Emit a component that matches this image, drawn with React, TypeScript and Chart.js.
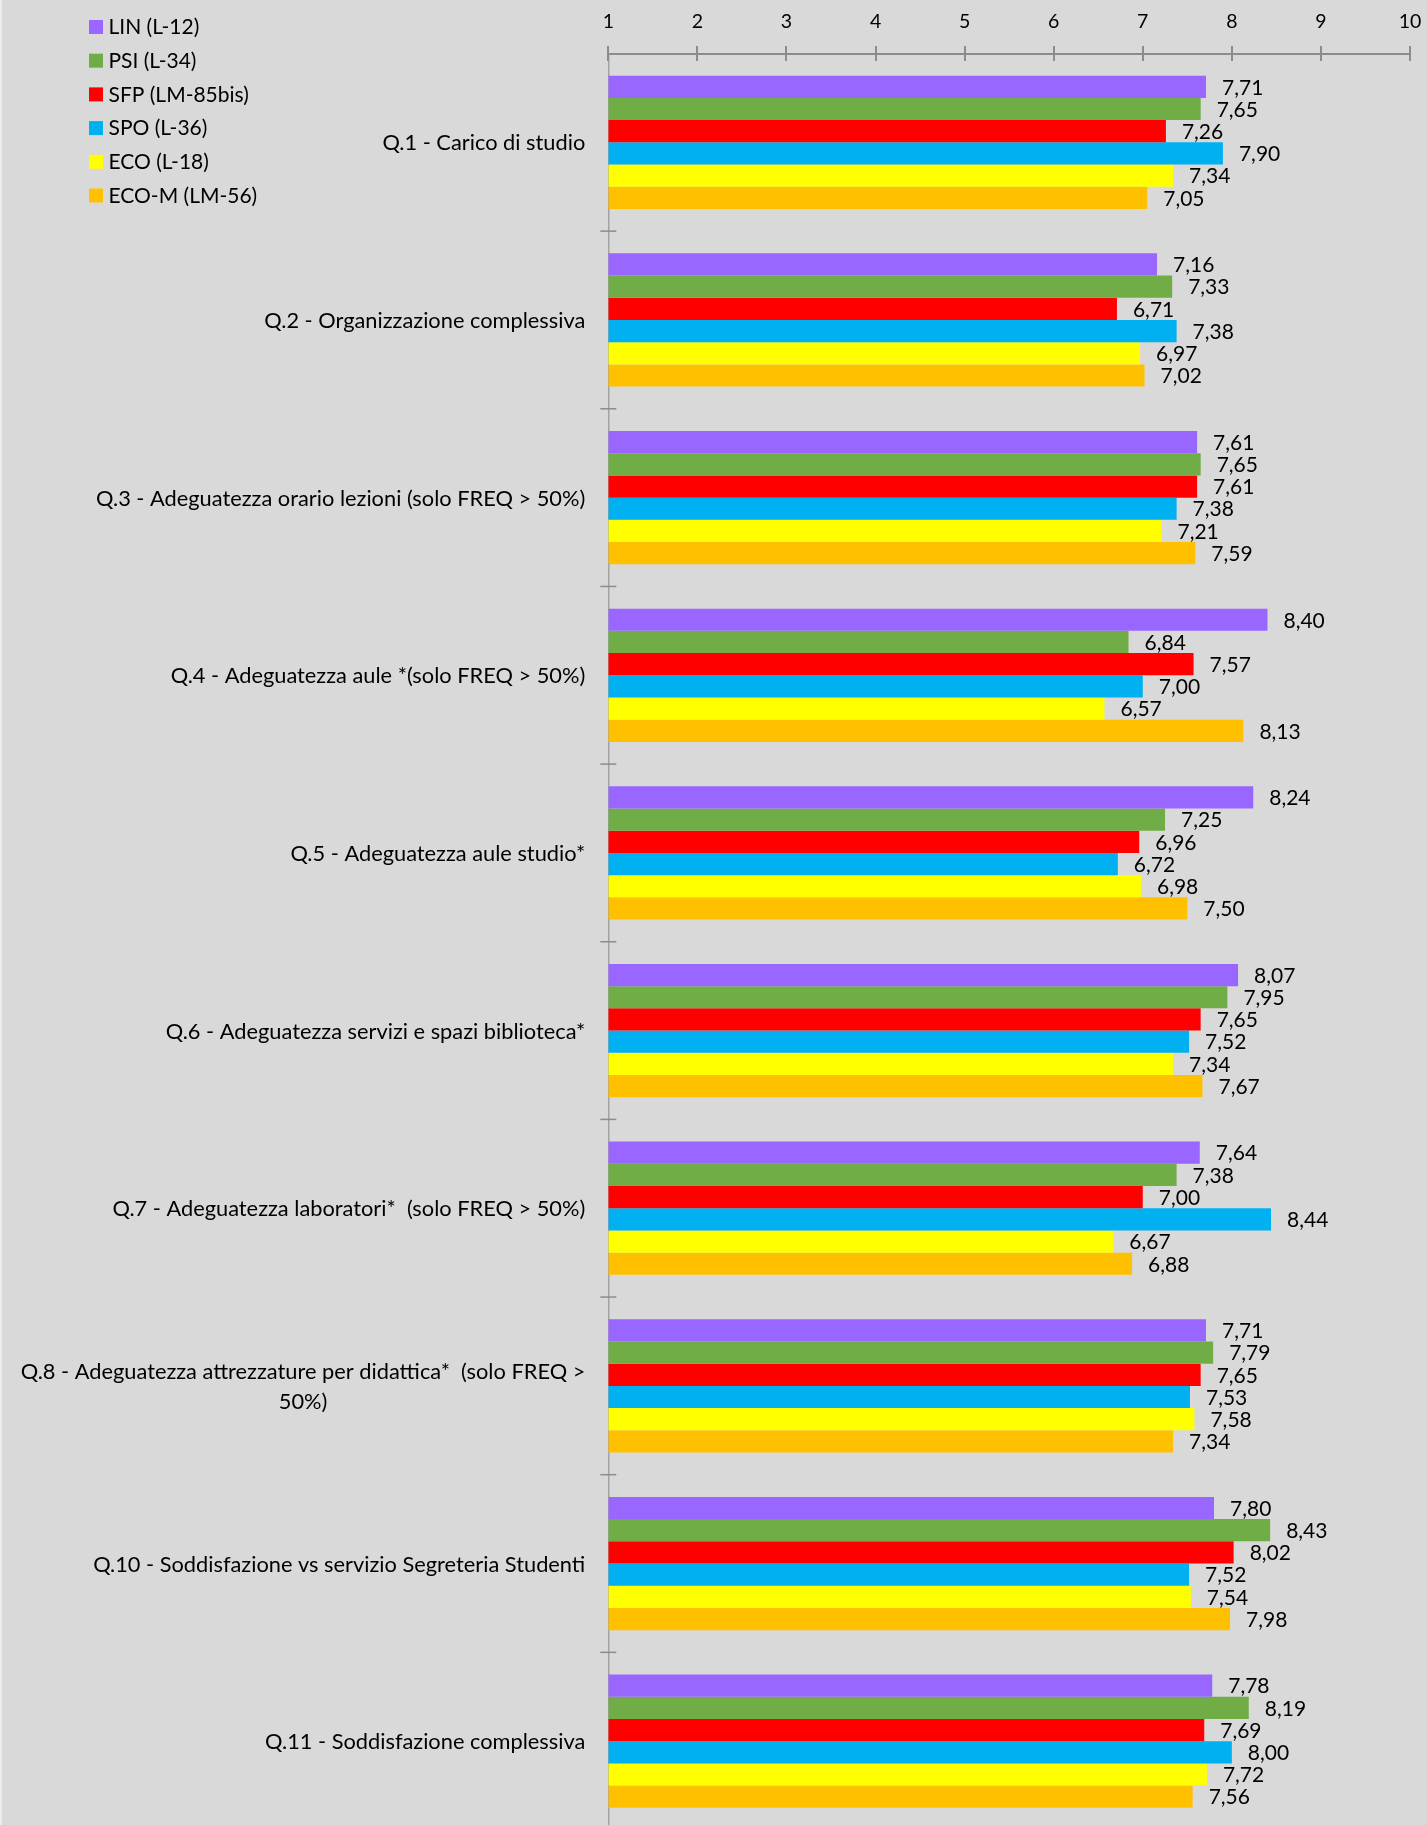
import { useEffect, useRef } from 'react';
import { Chart, registerables } from 'chart.js';

Chart.register(...registerables);

const categories: (string | string[])[] = [
  'Q.1 - Carico di studio',
  'Q.2 - Organizzazione complessiva',
  'Q.3 - Adeguatezza orario lezioni (solo FREQ > 50%)',
  'Q.4 - Adeguatezza aule *(solo FREQ > 50%)',
  'Q.5 - Adeguatezza aule studio*',
  'Q.6 - Adeguatezza servizi e spazi biblioteca*',
  'Q.7 - Adeguatezza laboratori*  (solo FREQ > 50%)',
  ['Q.8 - Adeguatezza attrezzature per didattica*  (solo FREQ >', '50%)'],
  'Q.10 - Soddisfazione vs servizio Segreteria Studenti',
  'Q.11 - Soddisfazione complessiva',
];

const seriesNames = ['LIN (L-12)', 'PSI (L-34)', 'SFP (LM-85bis)', 'SPO (L-36)', 'ECO (L-18)', 'ECO-M (LM-56)'];
const seriesColors = ['#9966FF', '#70AD47', '#FF0000', '#00B0F0', '#FFFF00', '#FFC000'];

const LIN = [7.71, 7.16, 7.61, 8.40, 8.24, 8.07, 7.64, 7.71, 7.80, 7.78];
const PSI = [7.65, 7.33, 7.65, 6.84, 7.25, 7.95, 7.38, 7.79, 8.43, 8.19];
const SFP = [7.26, 6.71, 7.61, 7.57, 6.96, 7.65, 7.00, 7.65, 8.02, 7.69];
const SPO = [7.90, 7.38, 7.38, 7.00, 6.72, 7.52, 8.44, 7.53, 7.52, 8.00];
const ECO = [7.34, 6.97, 7.21, 6.57, 6.98, 7.34, 6.67, 7.58, 7.54, 7.72];
const ECOM = [7.05, 7.02, 7.59, 8.13, 7.50, 7.67, 6.88, 7.34, 7.98, 7.56];

const seriesValues = [LIN, PSI, SFP, SPO, ECO, ECOM];

const xMin = 1;
const xMax = 10;

const FONT = 'Lato, "Open Sans", sans-serif';
const FS_TICK = 19.5;
const FS_DATA = 21;
const FS_CAT = 21.8;
const FS_LEG = 21;

const bgPlugin = {
  id: 'bg',
  beforeDraw(chart: any) {
    const ctx = chart.ctx;
    ctx.save();
    ctx.fillStyle = '#d9d9d9';
    ctx.fillRect(0, 0, chart.width, chart.height);
    ctx.fillStyle = '#ebebeb';
    ctx.fillRect(0, 0, 2, chart.height);
    ctx.restore();
  },
};

const decorPlugin = {
  id: 'decor',
  afterDatasetsDraw(chart: any) {
    const ctx = chart.ctx;
    const xs = chart.scales.x;
    const ys = chart.scales.y;
    const area = chart.chartArea;
    ctx.save();
    // x tick marks crossing the axis line
    ctx.strokeStyle = '#8c8c8c';
    ctx.lineWidth = 2;
    for (let v = xMin; v <= xMax; v++) {
      const px = Math.round(xs.getPixelForValue(v));
      ctx.beginPath();
      ctx.moveTo(px, area.top - 7.5);
      ctx.lineTo(px, area.top + 7.5);
      ctx.stroke();
    }
    // y tick marks at category boundaries
    ctx.lineWidth = 1.5;
    for (let i = 1; i < categories.length; i++) {
      const py = (ys.getPixelForValue(i - 1) + ys.getPixelForValue(i)) / 2;
      ctx.beginPath();
      ctx.moveTo(area.left - 8, py);
      ctx.lineTo(area.left + 8, py);
      ctx.stroke();
    }
    // data labels
    ctx.font = `${FS_DATA}px ${FONT}`;
    ctx.fillStyle = '#000';
    ctx.textAlign = 'left';
    ctx.textBaseline = 'middle';
    chart.data.datasets.forEach((ds: any, di: number) => {
      const meta = chart.getDatasetMeta(di);
      meta.data.forEach((el: any, i: number) => {
        const v = ds.data[i] as number;
        ctx.fillText(v.toFixed(2).replace('.', ','), el.x + 16, el.y + 1);
      });
    });
    // category labels
    ctx.font = `${FS_CAT}px ${FONT}`;
    const right = area.left - 23;
    categories.forEach((lab, i) => {
      const lines = Array.isArray(lab) ? lab : [lab];
      const w = Math.max(...lines.map((l) => ctx.measureText(l).width));
      const cy = ys.getPixelForValue(i);
      lines.forEach((l, j) => {
        ctx.textAlign = 'center';
        ctx.fillText(l, right - w / 2, cy + (j - (lines.length - 1) / 2) * 30 + 1);
      });
    });
    // legend
    ctx.font = `${FS_LEG}px ${FONT}`;
    ctx.textAlign = 'left';
    chart.data.datasets.forEach((ds: any, di: number) => {
      const y0 = 20 + di * 33.7;
      ctx.fillStyle = ds.backgroundColor;
      ctx.fillRect(89, y0, 14, 14);
      ctx.fillStyle = '#000';
      ctx.fillText(ds.label, 108.5, y0 + 7.5);
    });
    ctx.restore();
  },
};

export default function App() {
  const ref = useRef<HTMLCanvasElement | null>(null);
  useEffect(() => {
    document.body.style.margin = '0';
    document.body.style.overflow = 'hidden';
    const canvas = ref.current;
    if (!canvas) return;
    const chart = new Chart(canvas, {
      type: 'bar',
      data: {
        labels: categories as any,
        datasets: seriesNames.map((name, i) => ({
          label: name,
          data: seriesValues[i],
          backgroundColor: seriesColors[i],
          borderWidth: 0,
          base: xMin,
          categoryPercentage: 0.75,
          barPercentage: 1,
        })) as any,
      },
      options: {
        indexAxis: 'y',
        responsive: false,
        maintainAspectRatio: false,
        animation: false,
        layout: { padding: { left: 0, right: 17, top: 0, bottom: 0 } },
        plugins: {
          legend: { display: false },
          tooltip: { enabled: false },
        },
        scales: {
          x: {
            position: 'top',
            min: xMin,
            max: xMax,
            ticks: {
              stepSize: 1,
              padding: 20,
              color: '#000',
              font: { family: FONT, size: FS_TICK },
            },
            grid: { display: false, drawTicks: false },
            border: { display: true, color: '#8c8c8c', width: 2 },
            afterFit: (s: any) => {
              s.height = 53.5;
              s.paddingLeft = 0;
              s.paddingRight = 0;
            },
          },
          y: {
            type: 'category',
            offset: true,
            ticks: { display: false },
            grid: { display: false, drawTicks: false, offset: true },
            border: { display: true, color: '#a3a3a3', width: 1.5 },
            afterFit: (s: any) => {
              s.width = 608.3;
            },
          },
        },
      } as any,
      plugins: [bgPlugin, decorPlugin],
    });
    return () => chart.destroy();
  }, []);
  return <canvas ref={ref} width={1427} height={1830} style={{ display: 'block' }} />;
}
